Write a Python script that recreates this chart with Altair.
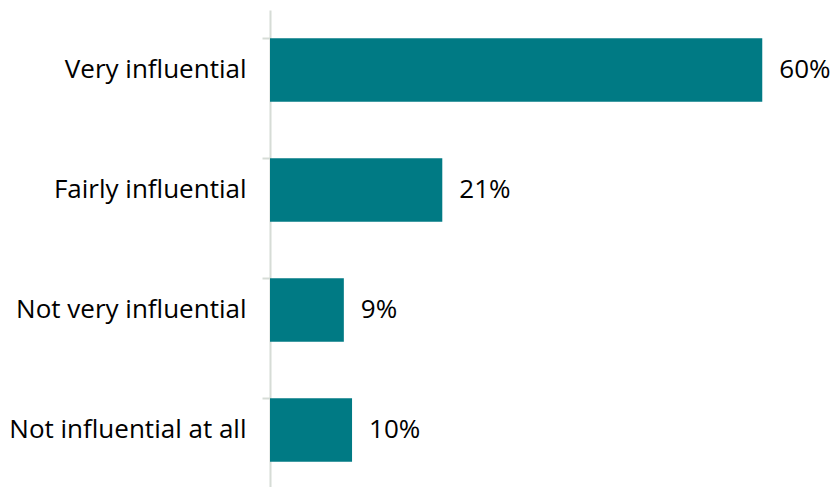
import altair as alt
import pandas as pd

categories = ["Very influential", "Fairly influential", "Not very influential", "Not influential at all"]
values = [60, 21, 9, 10]
labels = ["60%", "21%", "9%", "10%"]

df = pd.DataFrame({"cat": categories, "val": values, "lab": labels})

FONT = "Open Sans"
TEAL = "#007A84"
AXIS = "#D6DCD6"

y = alt.Y("cat:N", sort=categories, title=None,
          scale=alt.Scale(paddingInner=0.47, paddingOuter=0.235),
          axis=alt.Axis(domainColor=AXIS, domainWidth=2, tickColor=AXIS, tickWidth=2,
                        tickSize=8, labelPadding=16, labelFont=FONT, labelFontSize=26,
                        labelColor="#000000", bandPosition=0, labelLimit=400))
x = alt.X("val:Q", scale=alt.Scale(domain=[0, 68.5], nice=False), axis=None)

bars = alt.Chart(df).mark_bar(color=TEAL).encode(x=x, y=y)
text = alt.Chart(df).mark_text(align="left", dx=17, font=FONT, fontSize=26, color="#000000").encode(
    x=x, y=alt.Y("cat:N", sort=categories), text="lab:N")

chart = alt.layer(bars, text).properties(
    width=562, height=480,
    autosize=alt.AutoSizeParams(type="none"),
    padding={"left": 270, "top": 10, "right": 0, "bottom": 0},
).configure_view(stroke=None)

chart.save("out.html", embed_options={"renderer": "svg", "actions": False})
